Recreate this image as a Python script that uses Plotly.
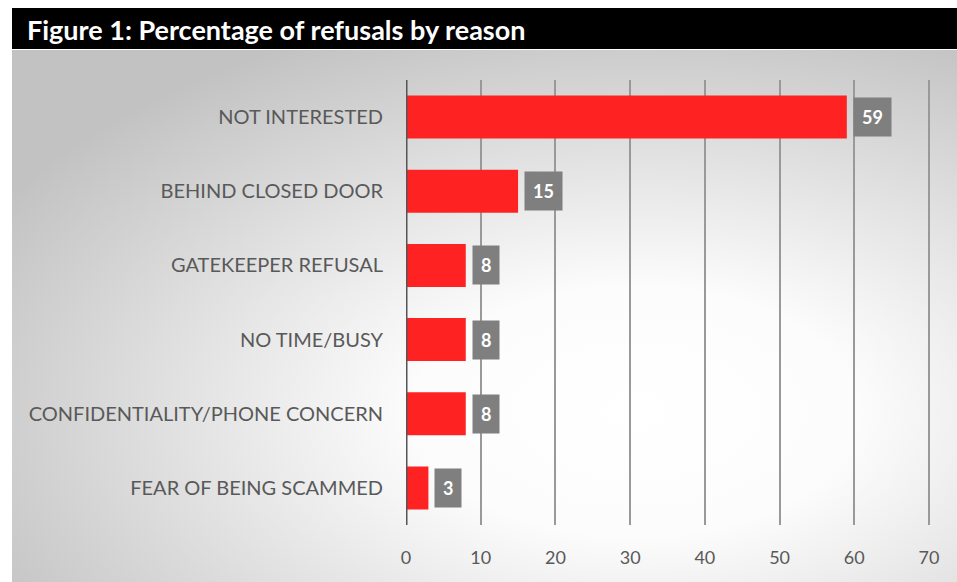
import plotly.graph_objects as go
import urllib.parse

# Refusal reasons and their share (%)
reasons = [
    "NOT INTERESTED",
    "BEHIND CLOSED DOOR",
    "GATEKEEPER REFUSAL",
    "NO TIME/BUSY",
    "CONFIDENTIALITY/PHONE CONCERN",
    "FEAR OF BEING SCAMMED",
]
percentages = [59, 15, 8, 8, 8, 3]
x_ticks = [0, 10, 20, 30, 40, 50, 60, 70]
title_text = "Figure 1: Percentage of refusals by reason"

W, H = 957, 582
ML, MR, MT, MB = 406, 25, 80, 57
PW, PH = W - ML - MR, H - MT - MB

def px_x(px):
    return (px - ML) / PW

def px_y(py):
    return 1 - (py - MT) / PH

# Soft radial backdrop for the chart panel
svg = (
    "<svg xmlns='http://www.w3.org/2000/svg' width='945' height='532' preserveAspectRatio='none'>"
    "<defs><radialGradient id='g' cx='0.66' cy='0.68' r='0.78'>"
    "<stop offset='0' stop-color='#ffffff'/>"
    "<stop offset='0.3' stop-color='#fcfcfc'/>"
    "<stop offset='1' stop-color='#c2c2c2'/>"
    "</radialGradient></defs>"
    "<rect width='945' height='532' fill='url(#g)'/></svg>"
)
bg_uri = "data:image/svg+xml;charset=utf-8," + urllib.parse.quote(svg)

fig = go.Figure()
fig.add_trace(go.Bar(
    x=percentages,
    y=reasons,
    orientation="h",
    marker=dict(color="#ff2222", line=dict(width=0)),
    hoverinfo="skip",
))

# Value labels in grey boxes next to each bar
for r, v in zip(reasons, percentages):
    fig.add_annotation(
        x=v, y=r, xref="x", yref="y",
        text=f"<b>{v}</b>", showarrow=False,
        xanchor="left", xshift=6,
        font=dict(family="Lato", size=18, color="#ffffff"),
        bgcolor="#7f7f7f", borderpad=8,
    )

# Title band
fig.add_shape(
    type="rect", xref="paper", yref="paper",
    x0=px_x(12), x1=px_x(W), y0=px_y(49), y1=px_y(8),
    fillcolor="#000000", line=dict(width=0), layer="above",
)
fig.add_annotation(
    xref="paper", yref="paper", x=px_x(25), y=px_y(29),
    xanchor="left", yanchor="middle", showarrow=False,
    text=f"<b>{title_text}</b>",
    font=dict(family="Lato", size=27, color="#ffffff"),
)

fig.update_layout(
    width=W, height=H,
    margin=dict(l=ML, r=MR, t=MT, b=MB, pad=0),
    paper_bgcolor="#ffffff",
    plot_bgcolor="rgba(0,0,0,0)",
    showlegend=False,
    bargap=0.42,
    images=[dict(
        source=bg_uri, xref="paper", yref="paper",
        x=px_x(12), y=px_y(50), sizex=px_x(W) - px_x(12),
        sizey=px_y(50) - px_y(H), xanchor="left", yanchor="top",
        sizing="stretch", layer="below",
    )],
    xaxis=dict(
        range=[0, 70.4], tickvals=x_ticks, showgrid=True,
        gridcolor="#999999", gridwidth=2, zeroline=False,
        showline=False, ticks="", ticklabelstandoff=20,
        tickfont=dict(family="Lato", size=18, color="#595959"),
    ),
    yaxis=dict(
        autorange="reversed", showgrid=False, zeroline=False,
        showline=False, ticks="", ticklabelstandoff=22,
        tickfont=dict(family="Lato", size=20, color="#595959"),
    ),
)

# Value axis baseline at zero
fig.add_shape(
    type="line", xref="x", yref="paper", x0=0, x1=0, y0=0, y1=1,
    line=dict(color="#555555", width=3), layer="above",
)

fig.write_html("out.html")
